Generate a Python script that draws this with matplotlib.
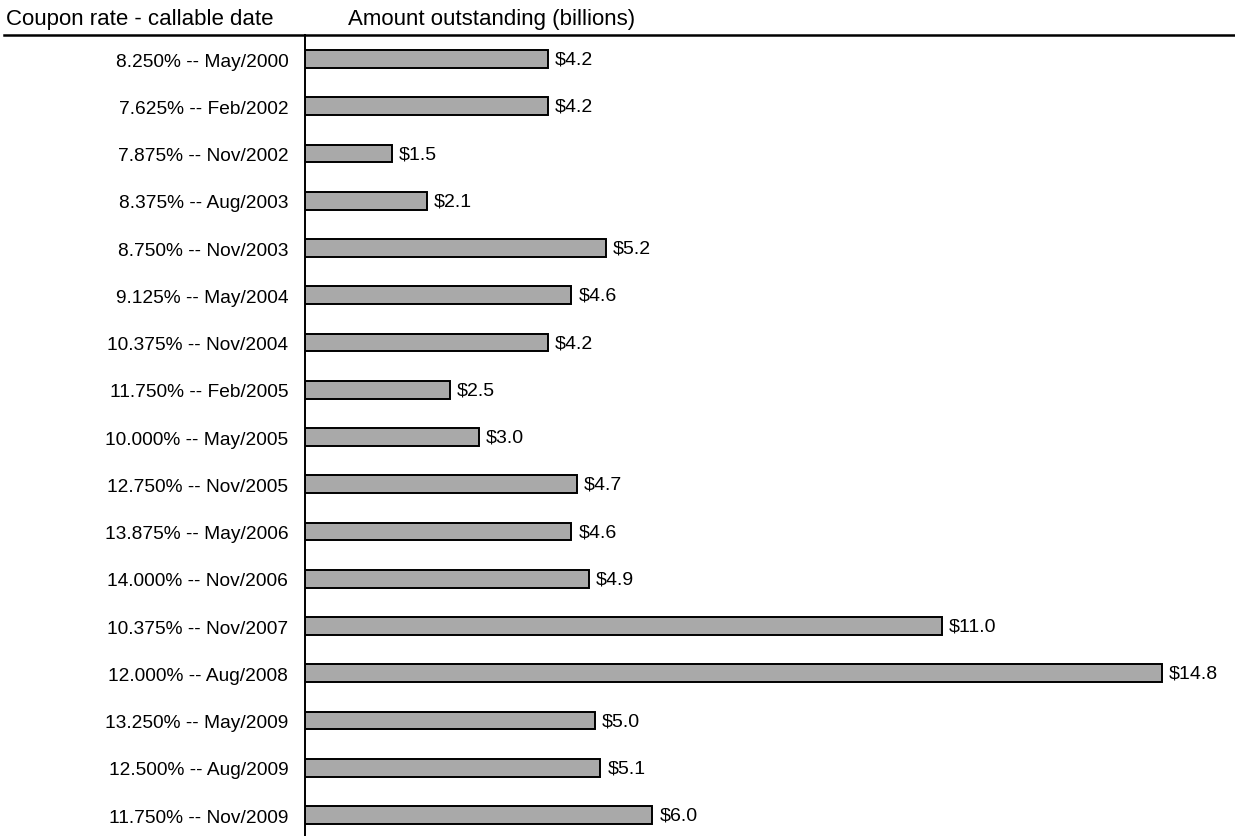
import matplotlib.pyplot as plt
from matplotlib.lines import Line2D

plt.rcParams['font.family'] = ['Liberation Sans', 'DejaVu Sans']

labels = [
    "8.250% -- May/2000", "7.625% -- Feb/2002", "7.875% -- Nov/2002",
    "8.375% -- Aug/2003", "8.750% -- Nov/2003", "9.125% -- May/2004",
    "10.375% -- Nov/2004", "11.750% -- Feb/2005", "10.000% -- May/2005",
    "12.750% -- Nov/2005", "13.875% -- May/2006", "14.000% -- Nov/2006",
    "10.375% -- Nov/2007", "12.000% -- Aug/2008", "13.250% -- May/2009",
    "12.500% -- Aug/2009", "11.750% -- Nov/2009",
]
amounts = [4.2, 4.2, 1.5, 2.1, 5.2, 4.6, 4.2, 2.5, 3.0, 4.7, 4.6, 4.9,
           11.0, 14.8, 5.0, 5.1, 6.0]

W, H = 1235, 837
top = 36
fig = plt.figure(figsize=(W / 100, H / 100), dpi=100)
ax = fig.add_axes([305 / W, 0, (W - 305) / W, (H - top) / H])

y = list(range(len(labels)))
ax.barh(y, amounts, height=0.38, color='#a9a9a9', edgecolor='black', linewidth=1.4)
for yi, v in zip(y, amounts):
    ax.text(v + 0.12, yi, f"${v:.1f}", va='center', ha='left', fontsize=14)

ax.set_xlim(0, (W - 305) / 57.9)
ax.set_ylim(16.444, -0.508)
ax.set_yticks(y)
ax.set_yticklabels(labels, fontsize=13.8)
ax.tick_params(axis='y', length=0, pad=12)
ax.set_xticks([])
for s in ['top', 'right', 'bottom']:
    ax.spines[s].set_visible(False)
ax.spines['left'].set_linewidth(1.4)

fig.add_artist(Line2D([4 / W, 1], [1 - top / H, 1 - top / H], color='black', linewidth=1.8))
fig.text(6 / W, 1 - 20 / H, "Coupon rate - callable date", fontsize=16, va='center', ha='left')
fig.text(348 / W, 1 - 20 / H, "Amount outstanding (billions)", fontsize=16, va='center', ha='left')

fig.savefig("out.png", dpi=100)
